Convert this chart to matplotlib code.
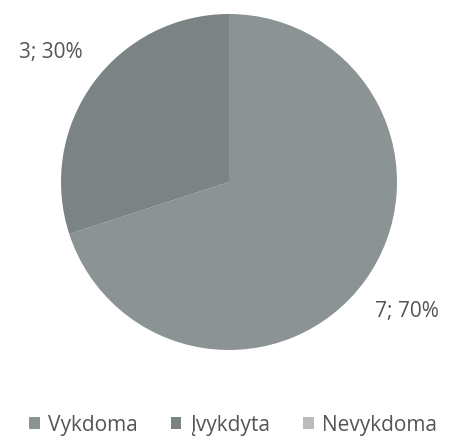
import matplotlib.pyplot as plt

# Duomenys
kategorijos = ['Vykdoma', 'Įvykdyta', 'Nevykdoma']
reiksmes = [7, 3, 0]
spalvos = ['#8b9394', '#7b8384', '#bcbcbc']

plt.rcParams['font.family'] = ['Open Sans', 'DejaVu Sans']

fig = plt.figure(figsize=(4.5, 4.41), dpi=100)
ax = fig.add_axes([0, 0, 1, 1])

suma = sum(reiksmes)
etiketes = [f'{v}; {round(100 * v / suma)}%' if v > 0 else '' for v in reiksmes]

wedges, texts = ax.pie(reiksmes, labels=etiketes, colors=spalvos,
                       startangle=90, counterclock=False,
                       center=(229, 259), radius=168, labeldistance=1.31,
                       frame=True,
                       textprops=dict(fontsize=15, color='#555555'))
for t in texts:
    t.set_horizontalalignment('center')

ax.set_xlim(0, 450)
ax.set_ylim(0, 441)
ax.axis('off')

fig.legend(wedges, kategorijos, loc='center',
           bbox_to_anchor=(0.5 + 8 / 450, 1 - 425 / 441),
           ncol=3, frameon=False, fontsize=15, labelcolor='#555555',
           handlelength=0.5, handleheight=0.5, handletextpad=0.4,
           columnspacing=1.6)

fig.savefig('out.png', dpi=100, facecolor='white')
